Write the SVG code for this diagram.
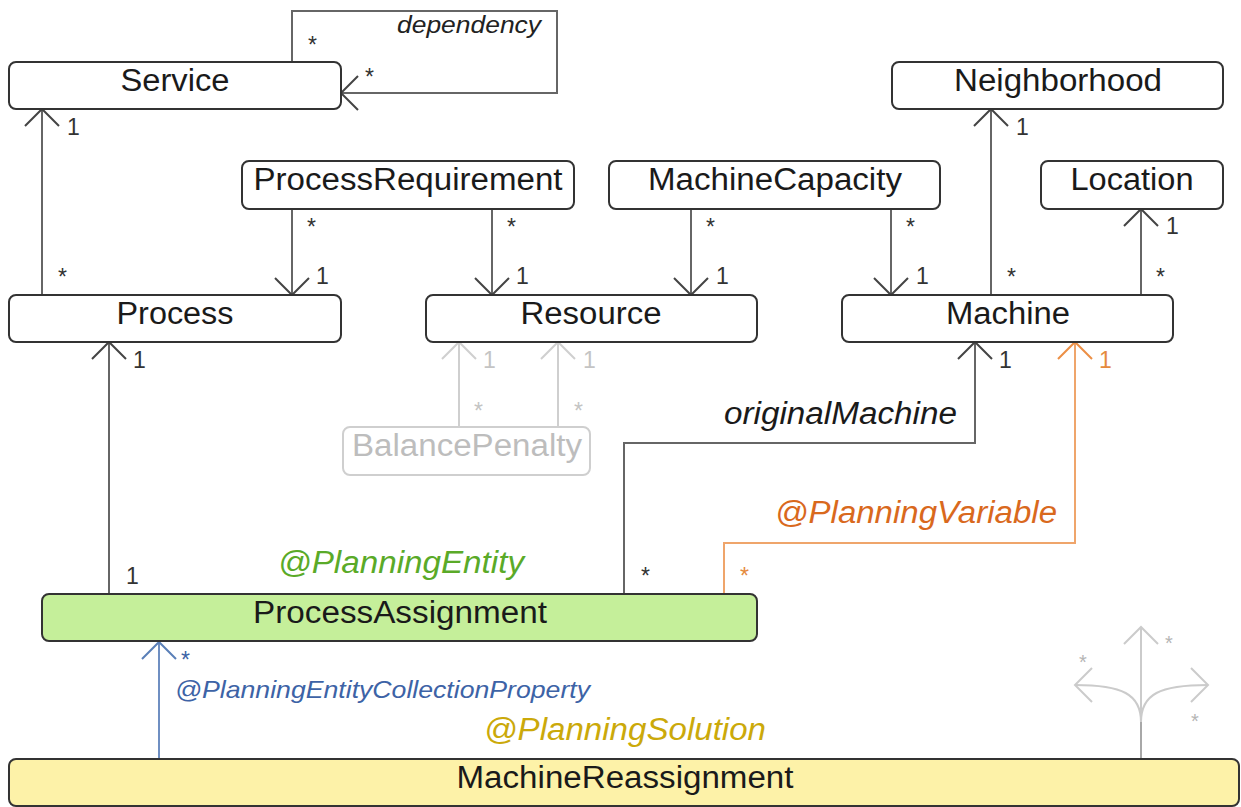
<svg xmlns="http://www.w3.org/2000/svg" width="1241" height="807" viewBox="0 0 1241 807">
<style>
text{font-family:"Liberation Sans",Arial,sans-serif}
.box{fill:#fff;stroke:#333;stroke-width:2}
.lbl{font-size:31px;fill:#1a1a1a;text-anchor:middle}
.it{font-style:italic}
.m{font-size:23px;fill:#333}
.c{fill:none;stroke:#666;stroke-width:2}
.cg{fill:none;stroke:#cfcfcf;stroke-width:2}
.co{fill:none;stroke:#efa56b;stroke-width:2}
.cb{fill:none;stroke:#6f8fc2;stroke-width:2}
.ct{fill:none;stroke:#cbcbcb;stroke-width:2}
</style>
<defs>
<marker id="a" markerUnits="userSpaceOnUse" orient="auto" overflow="visible" markerWidth="40" markerHeight="40" refX="0" refY="0"><path d="M-17,-17 L0,0 L-17,17" fill="none" stroke="#444" stroke-width="2"/></marker>
<marker id="ag" markerUnits="userSpaceOnUse" orient="auto" overflow="visible" markerWidth="40" markerHeight="40" refX="0" refY="0"><path d="M-17,-17 L0,0 L-17,17" fill="none" stroke="#cfcfcf" stroke-width="2"/></marker>
<marker id="ao" markerUnits="userSpaceOnUse" orient="auto" overflow="visible" markerWidth="40" markerHeight="40" refX="0" refY="0"><path d="M-17,-17 L0,0 L-17,17" fill="none" stroke="#ec8f45" stroke-width="2"/></marker>
<marker id="ab" markerUnits="userSpaceOnUse" orient="auto" overflow="visible" markerWidth="40" markerHeight="40" refX="0" refY="0"><path d="M-17,-17 L0,0 L-17,17" fill="none" stroke="#5a7fb8" stroke-width="2"/></marker>
<marker id="at" markerUnits="userSpaceOnUse" orient="auto" overflow="visible" markerWidth="40" markerHeight="40" refX="0" refY="0"><path d="M-17,-17 L0,0 L-17,17" fill="none" stroke="#cbcbcb" stroke-width="2"/></marker>
</defs>

<g id="connectors">
<path class="c" d="M292,62 V11 H557 V93 H341" marker-end="url(#a)"/>
<path class="c" d="M42,295 V109" marker-end="url(#a)"/>
<path class="c" d="M292,209 V295" marker-end="url(#a)"/>
<path class="c" d="M492,209 V295" marker-end="url(#a)"/>
<path class="c" d="M691,209 V295" marker-end="url(#a)"/>
<path class="c" d="M891,209 V295" marker-end="url(#a)"/>
<path class="c" d="M991,295 V109" marker-end="url(#a)"/>
<path class="c" d="M1141,295 V209" marker-end="url(#a)"/>
<path class="cg" d="M459,427 V342" marker-end="url(#ag)"/>
<path class="cg" d="M558,427 V342" marker-end="url(#ag)"/>
<path class="c" d="M109,594 V342" marker-end="url(#a)"/>
<path class="c" d="M624,594 V443 H975 V342" marker-end="url(#a)"/>
<path class="co" d="M724,594 V543 H1075 V342" marker-end="url(#ao)"/>
<path class="cb" d="M159,759 V642" marker-end="url(#ab)"/>
<path class="ct" d="M1141,722 V627" marker-end="url(#at)"/>
<path d="M1141,759 V718" fill="none" stroke="#a8a8a8" stroke-width="2"/>
<path class="ct" d="M1141,722 C1141,694 1122,685 1075,685" marker-end="url(#at)"/>
<path class="ct" d="M1141,722 C1141,694 1160,685 1208,685" marker-end="url(#at)"/>

<g class="m">
<text x="308" y="53">*</text>
<text x="365" y="85">*</text>
<text x="67" y="135">1</text>
<text x="58" y="285">*</text>
<text x="307" y="235">*</text>
<text x="316" y="284">1</text>
<text x="507" y="235">*</text>
<text x="516" y="284">1</text>
<text x="706" y="235">*</text>
<text x="716" y="284">1</text>
<text x="906" y="235">*</text>
<text x="916" y="284">1</text>
<text x="1016" y="135">1</text>
<text x="1007" y="285">*</text>
<text x="1166" y="234">1</text>
<text x="1156" y="285">*</text>
<text x="133" y="368">1</text>
<text x="126" y="584">1</text>
<text x="999" y="368">1</text>
<text x="641" y="584">*</text>
</g>
<g class="m" fill="#c4c4c4" style="fill:#c4c4c4">
<text x="483" y="368">1</text>
<text x="474" y="419">*</text>
<text x="583" y="368">1</text>
<text x="574" y="419">*</text>
</g>
<g class="m" style="fill:#e58a3e">
<text x="1099" y="368">1</text>
<text x="740" y="584">*</text>
</g>
<g class="m" style="fill:#3d63a6">
<text x="181" y="668">*</text>
</g>
<g class="m" style="fill:#b5b5b5;font-size:20px">
<text x="1165" y="650">*</text>
<text x="1079" y="669">*</text>
<text x="1191" y="728">*</text>
</g>

<text class="it" x="397" y="33" font-size="24" fill="#222" textLength="144" lengthAdjust="spacingAndGlyphs">dependency</text>
<text class="it" x="724" y="424" font-size="31" fill="#1a1a1a" textLength="233" lengthAdjust="spacingAndGlyphs">originalMachine</text>
<text class="it" x="775" y="523" font-size="31" fill="#d9691d" textLength="282" lengthAdjust="spacingAndGlyphs">@PlanningVariable</text>
<text class="it" x="278" y="573" font-size="31" fill="#5aaa28" textLength="246" lengthAdjust="spacingAndGlyphs">@PlanningEntity</text>
<text class="it" x="175" y="698" font-size="24" fill="#3d63a6" textLength="415" lengthAdjust="spacingAndGlyphs">@PlanningEntityCollectionProperty</text>
<text class="it" x="484" y="740" font-size="31" fill="#cba90a" textLength="282" lengthAdjust="spacingAndGlyphs">@PlanningSolution</text>
</g>

<g id="service"><rect class="box" x="9" y="62" width="332" height="47" rx="7"/><text class="lbl" x="175" y="91" textLength="109" lengthAdjust="spacingAndGlyphs">Service</text></g>
<g id="neighborhood"><rect class="box" x="892" y="62" width="331" height="47" rx="7"/><text class="lbl" x="1058" y="91" textLength="208" lengthAdjust="spacingAndGlyphs">Neighborhood</text></g>
<g id="processRequirement"><rect class="box" x="242" y="161" width="332" height="48" rx="7"/><text class="lbl" x="408" y="190" textLength="309" lengthAdjust="spacingAndGlyphs">ProcessRequirement</text></g>
<g id="machineCapacity"><rect class="box" x="609" y="161" width="331" height="48" rx="7"/><text class="lbl" x="775" y="190" textLength="254" lengthAdjust="spacingAndGlyphs">MachineCapacity</text></g>
<g id="location"><rect class="box" x="1041" y="161" width="182" height="48" rx="7"/><text class="lbl" x="1132" y="190" textLength="123" lengthAdjust="spacingAndGlyphs">Location</text></g>
<g id="process"><rect class="box" x="9" y="295" width="332" height="47" rx="7"/><text class="lbl" x="175" y="324" textLength="117" lengthAdjust="spacingAndGlyphs">Process</text></g>
<g id="resource"><rect class="box" x="426" y="295" width="331" height="47" rx="7"/><text class="lbl" x="591" y="324" textLength="141" lengthAdjust="spacingAndGlyphs">Resource</text></g>
<g id="machine"><rect class="box" x="842" y="295" width="331" height="47" rx="7"/><text class="lbl" x="1008" y="324" textLength="124" lengthAdjust="spacingAndGlyphs">Machine</text></g>
<g id="balancePenalty"><rect x="343" y="427" width="247" height="48" rx="7" fill="#fff" stroke="#cfcfcf" stroke-width="2"/><text class="lbl" x="467" y="456" style="fill:#bdbdbd" textLength="230" lengthAdjust="spacingAndGlyphs">BalancePenalty</text></g>
<g id="processAssignment"><rect class="box" x="42" y="594" width="715" height="47" rx="7" style="fill:#c5ef9a"/><text class="lbl" x="400" y="623" textLength="294" lengthAdjust="spacingAndGlyphs">ProcessAssignment</text></g>
<g id="machineReassignment"><rect class="box" x="9" y="759" width="1230" height="47" rx="7" style="fill:#fdf2a8"/><text class="lbl" x="625" y="788" textLength="337" lengthAdjust="spacingAndGlyphs">MachineReassignment</text></g>
</svg>
